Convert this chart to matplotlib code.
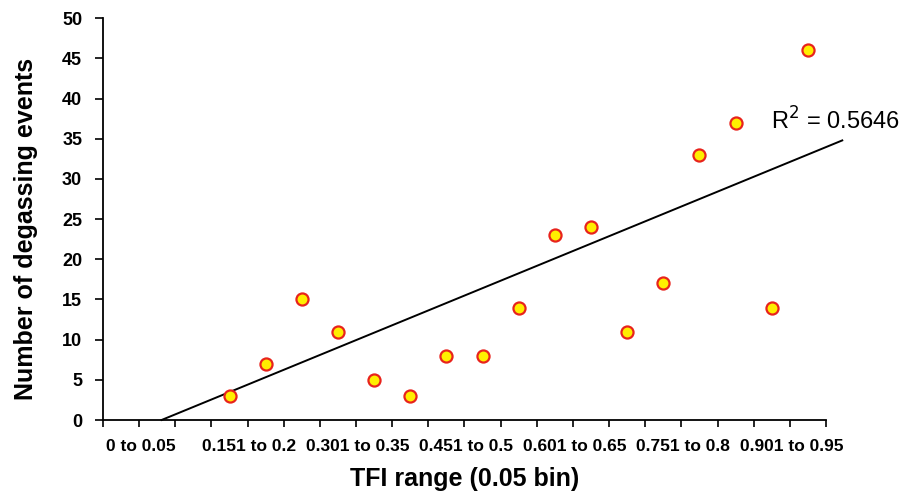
import numpy as np
import matplotlib.pyplot as plt
from matplotlib import transforms

plt.rcParams['font.family'] = ['Liberation Sans', 'DejaVu Sans']

# TFI bins (0.05 wide), 20 categories
bins = ['0 to 0.05', '0.051 to 0.1', '0.101 to 0.15', '0.151 to 0.2',
        '0.201 to 0.25', '0.251 to 0.3', '0.301 to 0.35', '0.351 to 0.4',
        '0.401 to 0.45', '0.451 to 0.5', '0.501 to 0.55', '0.551 to 0.6',
        '0.601 to 0.65', '0.651 to 0.7', '0.701 to 0.75', '0.751 to 0.8',
        '0.801 to 0.85', '0.851 to 0.9', '0.901 to 0.95', '0.951 to 1']

# bins that have data (first three are empty)
idx = np.arange(3, 20)
events = np.array([3, 7, 15, 11, 5, 3, 8, 8, 14, 23, 24, 11, 17, 33, 37, 14, 46])

fig = plt.figure(figsize=(9.05, 4.98), dpi=100)
ax = fig.add_axes([0.1138, 0.1566, 0.7989, 0.8067])

# linear trendline (in the original it sits one bin to the left)
coef = np.polyfit(idx, events, 1)
r2 = np.corrcoef(idx, events)[0, 1] ** 2
x0 = -coef[1] / coef[0] - 1
xl = np.array([x0, 19.95])
ax.plot(xl, np.polyval(coef, xl + 1), color='black', lw=1.4, clip_on=False, zorder=2)

ax.plot(idx, events, 'o', ms=8.7, mfc='#ffee00', mec='#e8231c', mew=1.6, zorder=3)

ax.text(17.98, 37.2, 'R$^2$ = %.4f' % r2, fontsize=17, va='center', ha='left')

ax.set_xlim(-0.5, 19.5)
ax.set_ylim(0, 50)
ax.set_yticks(np.arange(0, 51, 5))
ax.set_xticks(np.arange(0, 20, 3))
ax.set_xticklabels(bins[::3])
ax.set_xticks(np.arange(-0.5, 20, 1), minor=True)

for s in ['top', 'right']:
    ax.spines[s].set_visible(False)
for s in ['left', 'bottom']:
    ax.spines[s].set_linewidth(1.3)

ax.tick_params(axis='x', which='major', length=0, pad=14, labelsize=12.5)
ax.tick_params(axis='x', which='minor', length=5, width=1.2)
ax.tick_params(axis='y', length=6, width=1.2, pad=9, labelsize=13)
for lab in ax.get_xticklabels():
    lab.set_fontweight('bold')
    lab.set_transform(lab.get_transform() + transforms.ScaledTranslation(0.2, 0, fig.dpi_scale_trans))
for lab in ax.get_yticklabels():
    lab.set_fontweight('bold')

ax.set_xlabel('TFI range (0.05 bin)', fontsize=18, fontweight='bold', labelpad=9)
ax.set_ylabel('Number of degassing events', fontsize=18, fontweight='bold', labelpad=17)
ax.yaxis.label.set_y(0.475)

fig.savefig('out.png', dpi=100)
